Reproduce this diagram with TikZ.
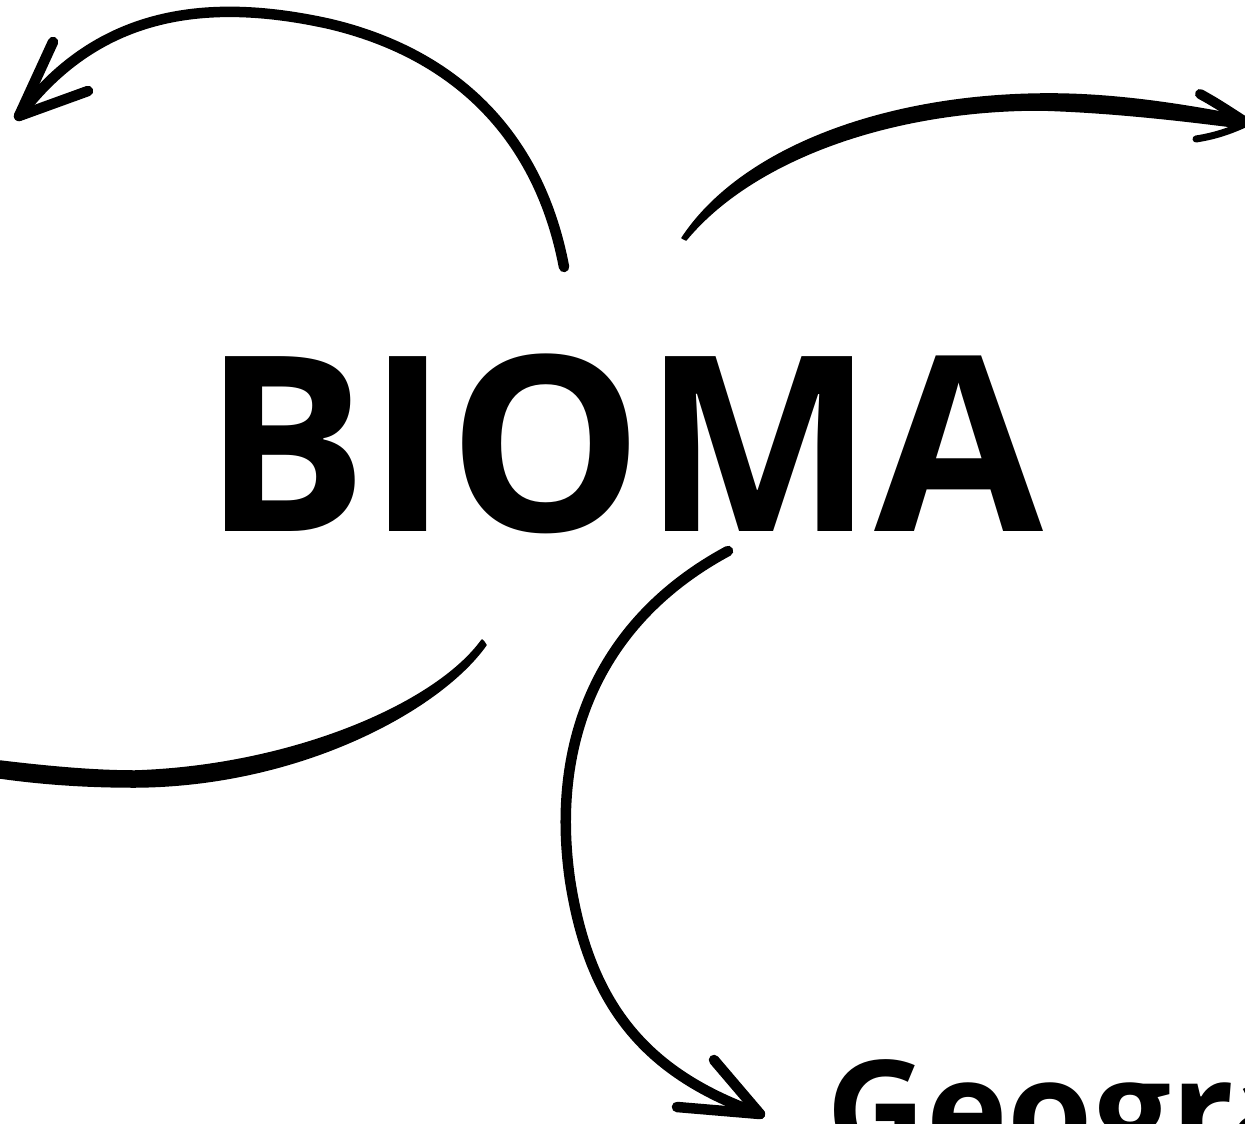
\documentclass[tikz,border=0pt]{standalone}
\usepackage{fontspec}
\setmainfont{Open Sans}
\begin{document}
\begin{tikzpicture}[x=1pt,y=-1pt,
  stroke/.style={line width=10.5pt,line cap=round,line join=round},
  barb/.style={line width=10.5pt,line cap=round,line join=round},
  taper/.style={fill=black,draw=black,line width=1.5pt,line join=round}]
\useasboundingbox (0,0) rectangle (1245,1124);
\clip (0,0) rectangle (1245,1124);
\fill[white] (0,0) rectangle (1245,1124);
% texts
\node[anchor=base west,inner sep=0pt,font={\fontsize{245}{245}\selectfont\bfseries}] (bioma) at (203,531) {BIOMA};
\node[anchor=base west,inner sep=0pt,font={\fontsize{138}{138}\selectfont\bfseries}] (geo) at (826,1159) {Geografia};
% arrow 1 (to top-left)
\coordinate (a1s) at (564,267);
\coordinate (a1m) at (330,24);
\coordinate (a1t) at (19,116);
\draw[stroke] (a1s) .. controls (540,140) and (460,55) .. (a1m)
  .. controls (200,-5) and (95,15) .. (a1t);
\draw[barb] (53,42) -- (a1t) -- (88,91);
% arrow 2 (to top-right), tapered
\coordinate (a2s) at (682,238);
\fill[taper] (a2s) .. controls (740,150) and (880,96) .. (1040,94)
  .. controls (1110,93) and (1180,104) .. (1242,116)
  -- (1242,128) .. controls (1180,120) and (1110,112) .. (1040,110)
  .. controls (890,110) and (752,160) .. (686,240) -- cycle;
\coordinate (a2t) at (1247,123);
\draw[line width=10pt,line cap=round] (1200,94) .. controls (1215,102) and (1230,112) .. (a2t);
\draw[line width=7pt,line cap=round] (1196,139) .. controls (1215,136) and (1230,131) .. (a2t);
% arrow 3 (to left), tapered
\coordinate (a3s) at (484,642);
\fill[taper] (0,761) .. controls (50,767) and (95,771) .. (135,771)
  .. controls (290,766) and (435,705) .. (482,640)
  -- (a3s) -- (486,645) .. controls (440,710) and (300,786) .. (135,787)
  .. controls (95,787) and (50,785) .. (0,778) -- cycle;
% arrow 4 (down to Geografia)
\coordinate (a4s) at (728,551);
\coordinate (a4m) at (570,880);
\coordinate (a4t) at (760,1114);
\draw[stroke] (a4s) .. controls (600,620) and (550,740) .. (a4m)
  .. controls (590,1010) and (650,1075) .. (a4t);
\draw[barb] (714,1060) -- (a4t) -- (677,1107);
\end{tikzpicture}
\end{document}
